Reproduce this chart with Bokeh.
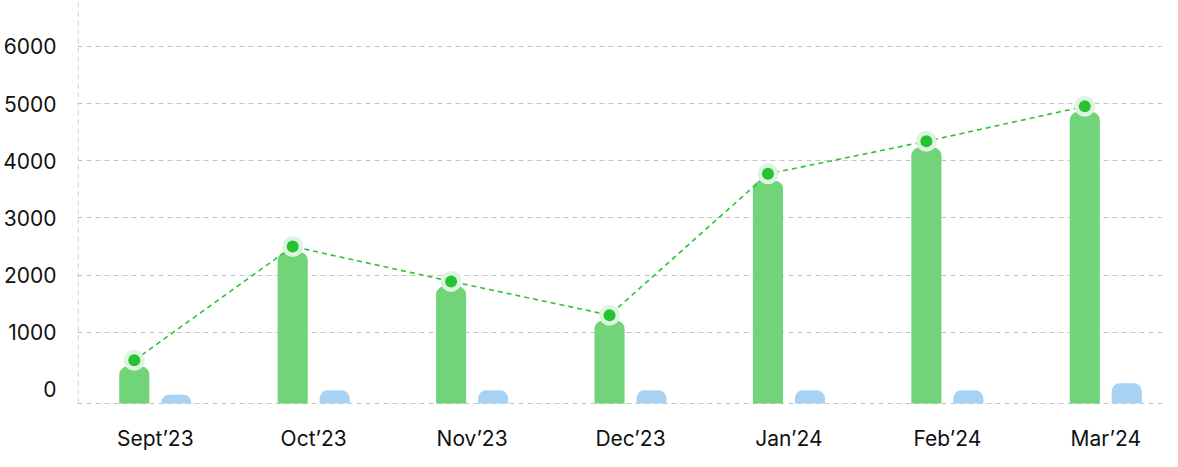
from bokeh.plotting import figure
from bokeh.models import Range1d, FixedTicker
from bokeh.core.properties import value
from bokeh.embed import file_html
from bokeh.resources import INLINE

months = ["Sept’23", "Oct’23", "Nov’23", "Dec’23", "Jan’24", "Feb’24", "Mar’24"]
green_bars = [400, 2400, 1800, 1200, 3650, 4230, 4850]
trend_line = [510, 2500, 1890, 1300, 3770, 4340, 4950]
blue_bars = [-90, -15, -15, -15, -15, -15, 110]
y_ticks = [0, 1000, 2000, 3000, 4000, 5000, 6000]

BASE = -245              # value at the dashed base line
Y_MIN, Y_MAX = -1084, 6801
X_LEFT = -0.487          # where the dashed vertical axis line sits
FONT = "Inter"
GRID = "#c4c4c4"

idx = list(range(len(months)))
gx = [i - 0.1325 for i in idx]
bx = [i + 0.1325 for i in idx]

p = figure(width=1162, height=451, output_backend="svg", toolbar_location=None,
           x_range=Range1d(X_LEFT - 0.004, 6.358), y_range=Range1d(Y_MIN, Y_MAX),
           min_border_left=77, min_border_right=0, min_border_top=0, min_border_bottom=0)
p.outline_line_color = None
p.background_fill_color = "white"
p.border_fill_color = "white"

# grid (including the dashed base line)
p.xgrid.visible = False
p.ygrid.ticker = FixedTicker(ticks=[BASE] + [t for t in y_ticks if t > 0])
p.ygrid.grid_line_color = GRID
p.ygrid.grid_line_dash = "5 4"
p.ygrid.grid_line_width = 1

# y axis (labels only); its dashed line is drawn as a segment stopping at the base
p.yaxis.ticker = FixedTicker(ticks=y_ticks)
p.yaxis.major_tick_line_color = None
p.yaxis.minor_tick_line_color = None
p.yaxis.axis_line_color = None
p.yaxis.major_label_text_font = FONT
p.yaxis.major_label_text_font_size = "21px"
p.yaxis.major_label_text_color = "#111111"
p.yaxis.major_label_standoff = 15
p.segment(x0=[X_LEFT], y0=[BASE], x1=[X_LEFT], y1=[Y_MAX],
          line_color=GRID, line_width=1, line_dash="5 4")

p.xaxis.visible = False

# bars
p.vbar(x=gx, top=green_bars, bottom=BASE, width=0.19, fill_color="#71d479",
       line_color=None, border_radius=(8, 8, 0, 0))
p.vbar(x=bx, top=blue_bars, bottom=BASE, width=0.19, fill_color="#a8d2f3",
       line_color=None, border_radius=(8, 8, 0, 0))

# trend line
p.line(x=gx, y=trend_line, line_color="#2ec336", line_width=1.6, line_dash="5 4")
p.scatter(x=gx, y=trend_line, size=21, fill_color="#dff3e1", line_color=None)
p.scatter(x=gx, y=trend_line, size=12, fill_color="#27c232", line_color=None)

# month labels under the base line
p.text(x=idx, y=[BASE] * len(idx), text=months, y_offset=35,
       text_align="center", text_baseline="alphabetic",
       text_font=value(FONT), text_font_size=value("21px"), text_color="#111111")

open("out.html", "w").write(file_html(p, INLINE))
